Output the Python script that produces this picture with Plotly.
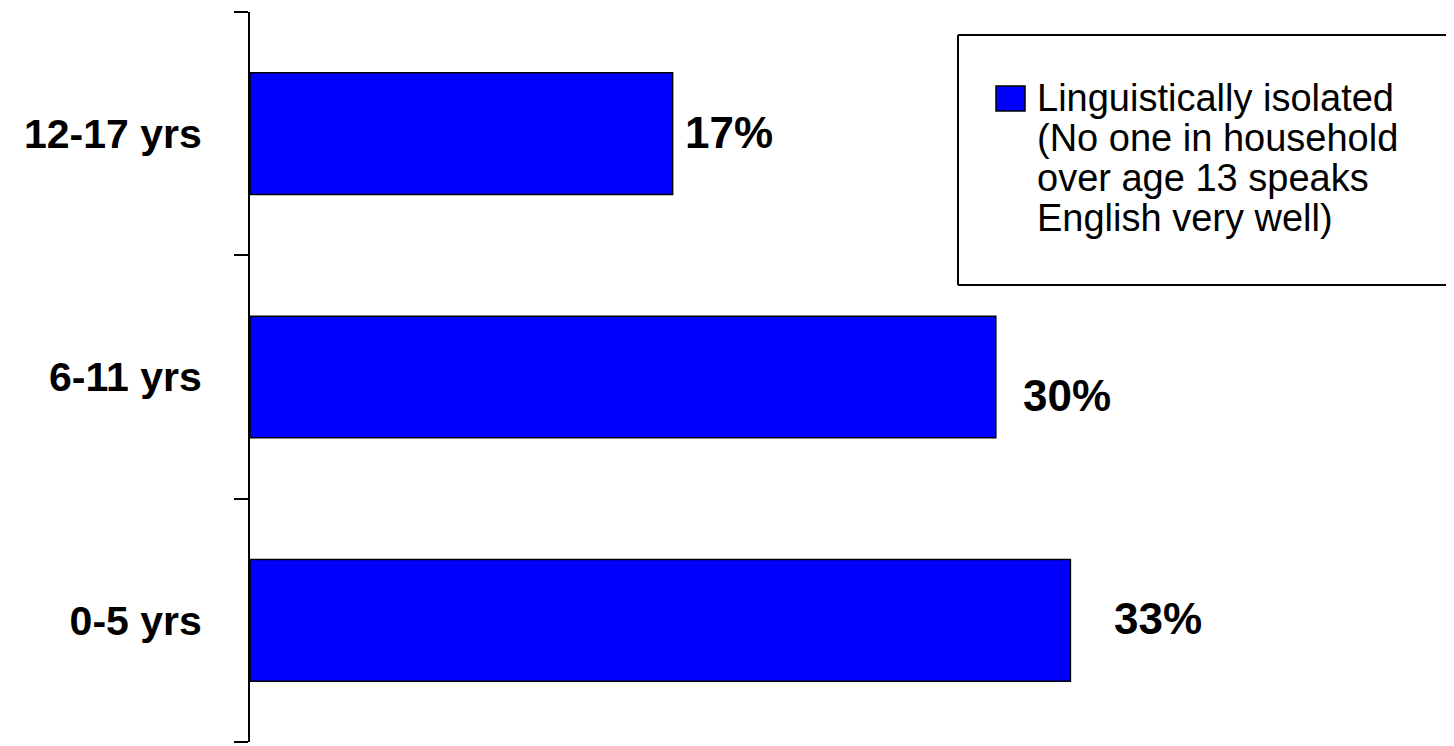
import plotly.graph_objects as go

# ---- data ----
categories = ["0-5 yrs", "6-11 yrs", "12-17 yrs"]
values = [33, 30, 17]
value_labels = ["33%", "30%", "17%"]
legend_lines = [
    "Linguistically isolated",
    "(No one in household",
    "over age 13 speaks",
    "English very well)",
]

# ---- layout geometry (page pixels; the page body adds an 8px offset) ----
OFF = 8
W, H = 1454, 746 - OFF
ML, MR, MT, MB = 250 - OFF, OFF, 12 - OFF, 746 - 742
PW = W - ML - MR
PH = H - MT - MB
FONT = "Liberation Sans, Arial, sans-serif"


def px(xpage):
    return (xpage - OFF - ML) / PW


def py(ypage):
    return (H - MB - (ypage - OFF)) / PH


fig = go.Figure(
    go.Bar(
        x=values,
        y=categories,
        orientation="h",
        width=0.5,
        marker=dict(color="#0000FF", line=dict(color="black", width=1.5)),
        showlegend=False,
        hoverinfo="skip",
    )
)

# value labels
label_dx = [42, 25, 10]
label_dy = [1.5, -18, 1.5]
for cat, val, lab, dx, dy in zip(categories, values, value_labels, label_dx, label_dy):
    fig.add_annotation(
        x=val, y=cat, xref="x", yref="y", text=lab, showarrow=False,
        xanchor="left", yanchor="middle", xshift=dx, yshift=dy,
        font=dict(family=FONT, size=44, color="black", weight="bold"),
    )

# legend frame (open on the right: the original box runs off the image edge)
frame = dict(color="black", width=2)
fig.add_shape(type="line", xref="paper", yref="paper",
              x0=px(958), x1=px(1500), y0=py(35), y1=py(35), line=frame)
fig.add_shape(type="line", xref="paper", yref="paper",
              x0=px(958), x1=px(1500), y0=py(285), y1=py(285), line=frame)
fig.add_shape(type="line", xref="paper", yref="paper",
              x0=px(958), x1=px(958), y0=py(285), y1=py(35), line=frame)
fig.add_shape(type="rect", xref="paper", yref="paper",
              x0=px(996), x1=px(1025), y0=py(111), y1=py(86),
              line=dict(color="black", width=1.5), fillcolor="#0000FF")
for i, line in enumerate(legend_lines):
    fig.add_annotation(
        x=px(1035), y=py(98 + 40 * i), xref="paper", yref="paper",
        text=line, showarrow=False, xanchor="left", yanchor="middle",
        font=dict(family=FONT, size=38, color="black"),
    )

fig.update_layout(
    template="none",
    width=W, height=H,
    margin=dict(l=ML, r=MR, t=MT, b=MB, pad=0, autoexpand=False),
    paper_bgcolor="white", plot_bgcolor="white",
    bargap=0.5,
    font=dict(family=FONT, color="black"),
    xaxis=dict(visible=False, range=[0, 48.43], fixedrange=True),
    yaxis=dict(
        type="category", categoryorder="array", categoryarray=categories,
        range=[-0.5, 2.5], automargin=False,
        showline=True, linecolor="black", linewidth=2,
        ticks="outside", tickson="boundaries", ticklen=14, tickwidth=2, tickcolor="black",
        showgrid=False, zeroline=False,
        ticklabelstandoff=38,
        tickfont=dict(family=FONT, size=41, color="black", weight="bold"),
    ),
)

fig.write_html("out.html")
